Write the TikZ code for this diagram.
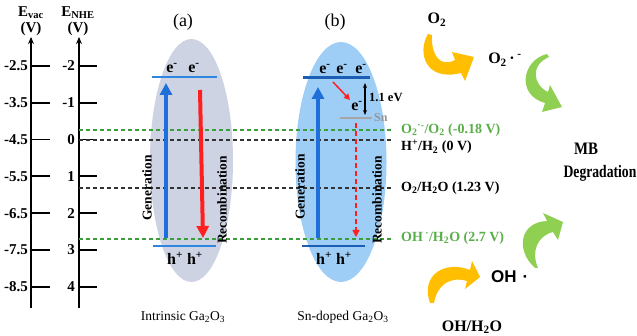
\documentclass[tikz,border=0pt]{standalone}
\usepackage{fontspec}
\setmainfont{Liberation Serif}
\newfontfamily\arialfont{Liberation Sans}
\usetikzlibrary{shapes.geometric, arrows.meta, positioning}
\definecolor{ellgray}{HTML}{CDD3E3}
\definecolor{ellblue}{HTML}{9ECDF6}
\definecolor{genblue}{HTML}{1F6FDB}
\definecolor{cbthin}{HTML}{2E86DE}
\definecolor{cbdark}{HTML}{1A5FB4}
\definecolor{recred}{HTML}{FF1F1F}
\definecolor{redoxgreen}{HTML}{3A9E3A}
\definecolor{lblgreen}{HTML}{5AAE4A}
\definecolor{arrorange}{HTML}{FFBE00}
\definecolor{arrgreen}{HTML}{8FCF52}
\definecolor{dopegray}{HTML}{A6A6A6}
\tikzset{
  % energy axes
  axis/.style={draw=black, line width=1.8pt, -{Stealth[length=7pt,width=6pt]}},
  tickmark/.style={draw=black, line width=1.8pt},
  numlbl/.style={font=\fontsize{15}{15}\selectfont\bfseries, anchor=east, inner sep=1pt},
  axtitle/.style={font=\fontsize{15}{15}\selectfont\bfseries, inner sep=0pt},
  % semiconductor ellipses
  bgell/.style={ellipse, fill=#1, draw=none, inner sep=0pt},
  band/.style={draw=#1, line width=1.5pt},
  carrier/.style={font=\fontsize{16}{16}\selectfont\bfseries, inner sep=1pt},
  vlbl/.style={font=\fontsize{13.5}{13.5}\selectfont\bfseries, rotate=90, inner sep=0pt},
  panel/.style={font=\fontsize{18}{18}\selectfont},
  caption/.style={font=\fontsize{13.5}{13.5}\selectfont},
  % transitions
  genarrow/.style={draw=genblue, line width=4pt, -{Triangle[width=12pt,length=12pt]}},
  recarrow/.style={draw=recred, line width=4pt, -{Triangle[width=12pt,length=12pt]}},
  thinred/.style={draw=recred, line width=1.5pt, -{Triangle[width=6pt,length=6pt]}},
  % redox levels
  redox/.style={line width=1.2pt, dash pattern=on 4pt off 3pt},
  redoxlbl/.style={font=\fontsize{14}{14}\selectfont\bfseries, anchor=west, inner sep=0pt},
  spec/.style={font=\fontsize{16}{16}\selectfont\bfseries, inner sep=1pt},
  bigspec/.style={font=\fontsize{17.5}{17.5}\selectfont\bfseries, inner sep=1pt},
}

\begin{document}
\begin{tikzpicture}[x=1pt, y=-1pt]
\useasboundingbox (0,0) rectangle (637,336);

% ── Energy axes ──────────────────────────────────────────────────────────────
\coordinate (vac-b) at (31,308);
\coordinate (vac-t) at (31,37);
\coordinate (nhe-b) at (79,308);
\coordinate (nhe-t) at (79,37);
\draw[axis] (vac-b) -- (vac-t);
\draw[axis] (nhe-b) -- (nhe-t);
\node[axtitle] (vac-title) at (31,13) {E\textsubscript{vac}};
\node[axtitle] (vac-unit)  at (31,29) {(V)};
\node[axtitle] (nhe-title) at (78,13) {E\textsubscript{NHE}};
\node[axtitle] (nhe-unit)  at (78,29) {(V)};

\foreach \vl/\nl [count=\i] in {-2.5/-2, -3.5/-1, -4.5/0, -5.5/1, -6.5/2, -7.5/3, -8.5/4} {
  \pgfmathsetmacro{\yy}{29.2+36.8*\i}
  \draw[tickmark] (31,\yy) -- (50,\yy);
  \draw[tickmark] (79,\yy) -- (97,\yy);
  \node[numlbl] (vac\i) at (29,\yy) {\vl};
  \node[numlbl] (nhe\i) at (76,\yy) {\nl};
}

% ── Ellipses ─────────────────────────────────────────────────────────────────
\node[bgell=ellgray, minimum width=83pt, minimum height=243pt] (ellA) at (191.5,160.5) {};
\node[bgell=ellblue, minimum width=91pt, minimum height=240pt] (ellB) at (341,162) {};

% ── Redox levels ─────────────────────────────────────────────────────────────
\foreach \nm/\yy/\col in {o2/130/redoxgreen, h2/140/black!80, h2o/188/black!80, oh/239/redoxgreen} {
  \coordinate (\nm-l) at (79,\yy);
  \coordinate (\nm-r) at (393,\yy);
  \draw[redox, draw=\col] (\nm-l) -- (\nm-r);
}
\node[redoxlbl, text=lblgreen] (o2lbl)  at (401,130) {O\textsubscript{2}\textsuperscript{·-}/O\textsubscript{2} (-0.18 V)};
\node[redoxlbl]                (h2lbl)  at (401,147) {H\textsuperscript{+}/H\textsubscript{2} (0 V)};
\node[redoxlbl]                (h2olbl) at (401,188) {O\textsubscript{2}/H\textsubscript{2}O (1.23 V)};
\node[redoxlbl, text=lblgreen] (ohlbl)  at (401,238) {OH\,\textsuperscript{·}/H\textsubscript{2}O (2.7 V)};

% ── (a) Intrinsic ────────────────────────────────────────────────────────────
\node[panel] (capA) at (183,22) {(a)};
\coordinate (cbA-l) at (152,77);  \coordinate (cbA-r) at (217,77);
\coordinate (vbA-l) at (153,246); \coordinate (vbA-r) at (216,246);
\draw[band=cbthin] (cbA-l) -- (cbA-r);
\draw[band=cbthin] (vbA-l) -- (vbA-r);
\node[carrier] (eA1) at (172,68) {e\textsuperscript{-}};
\node[carrier] (eA2) at (194,68) {e\textsuperscript{-}};
\node[carrier] (hA)  at (185,258) {h\textsuperscript{+} h\textsuperscript{+}};
\coordinate (genA-s) at (166,238); \coordinate (genA-e) at (166,83);
\coordinate (recA-s) at (200,90);  \coordinate (recA-e) at (203,238);
\draw[genarrow] (genA-s) -- (genA-e);
\draw[recarrow] (recA-s) -- (recA-e);
\node[vlbl] (genAlbl) at (147,188) {Generation};
\node[vlbl] (recAlbl) at (222,200) {Recombination};
\node[caption] (nameA) at (183,317) {Intrinsic Ga\textsubscript{2}O\textsubscript{3}};

% ── (b) Sn-doped ─────────────────────────────────────────────────────────────
\node[panel] (capB) at (335,22) {(b)};
\coordinate (cbB-l) at (303,78);  \coordinate (cbB-r) at (370,78);
\coordinate (vbB-l) at (302,246); \coordinate (vbB-r) at (365,246);
\coordinate (sn-l)  at (340,118); \coordinate (sn-r)  at (372,118);
\draw[draw=cbdark, line width=3pt] (cbB-l) -- (cbB-r);
\draw[draw=cbdark, line width=2pt] (vbB-l) -- (vbB-r);
\draw[draw=dopegray, line width=2.5pt] (sn-l) -- (sn-r);
\node[font=\fontsize{12}{12}\selectfont\bfseries, text=dopegray!90!black, anchor=west, inner sep=0pt]
  (snlbl) at (374,118) {Sn};
\node[carrier] (eB1) at (325,69) {e\textsuperscript{-}};
\node[carrier] (eB2) at (342,69) {e\textsuperscript{-}};
\node[carrier] (eB3) at (361,69) {e\textsuperscript{-}};
\node[carrier] (eB4) at (357,106) {e\textsuperscript{-}};
\node[carrier] (hB)  at (334,258) {h\textsuperscript{+} h\textsuperscript{+}};
\coordinate (genB-s) at (318,238); \coordinate (genB-e) at (318,87);
\coordinate (trap-s) at (333,82);  \coordinate (trap-e) at (350,100);
\coordinate (gap-t)  at (365,83);  \coordinate (gap-b)  at (365,115);
\coordinate (recB-s) at (356,123); \coordinate (recB-e) at (356,237);
\draw[genarrow] (genB-s) -- (genB-e);
\draw[thinred] (trap-s) -- (trap-e);
\draw[line width=1.2pt, {Stealth[length=5pt,width=4pt]}-{Stealth[length=5pt,width=4pt]}] (gap-t) -- (gap-b);
\node[font=\fontsize{12.5}{12.5}\selectfont\bfseries, anchor=west, inner sep=0pt]
  (gaplbl) at (369,97) {1.1 eV};
\draw[draw=recred, line width=1.5pt, dash pattern=on 5pt off 3pt,
      -{Triangle[width=7pt,length=7pt]}] (recB-s) -- (recB-e);
\node[vlbl] (genBlbl) at (300,187) {Generation};
\node[vlbl] (recBlbl) at (377,200) {Recombination};
\node[caption] (nameB) at (343,317) {Sn-doped Ga\textsubscript{2}O\textsubscript{3}};

% ── Radicals and degradation ─────────────────────────────────────────────────
\node[spec] (o2)    at (437,20)  {O\textsubscript{2}};
\node[spec] (o2rad) at (505,60)  {O\textsubscript{2}\,·\,\textsuperscript{-}};
\node[bigspec] (mb)   at (586,149) {\scalebox{0.85}[1]{MB}};
\node[bigspec] (degr) at (600,173) {\scalebox{0.78}[1]{Degradation}};
\node[font={\arialfont\fontsize{17}{17}\selectfont\bfseries}, anchor=west, inner sep=0pt]
  (ohrad) at (491,277) {OH\hspace{6pt}·};
\node[spec] (ohwater) at (472,327) {OH/H\textsubscript{2}O};

\fill[arrorange] (428,34) .. controls (417,52) and (425,82) .. (461,73) -- (465,81) -- (474,57)
  -- (452,52) -- (455,60) .. controls (440,68) and (431,55) .. (432,35) -- cycle;
\fill[arrgreen] (547,54) .. controls (522,60) and (516,95) .. (545,103) -- (542,112) -- (562,107)
  -- (550,85) -- (548,92) .. controls (533,85) and (530,65) .. (549,57) -- cycle;
\fill[arrgreen] (535,268) .. controls (515,250) and (520,222) .. (547,221) -- (543,213) -- (563,222)
  -- (558,240) -- (553,232) .. controls (537,236) and (531,252) .. (538,268) -- cycle;
\fill[arrorange] (430,303) .. controls (420,275) and (445,260) .. (470,270) -- (472,261) -- (480,277)
  -- (465,289) -- (467,281) .. controls (450,276) and (437,285) .. (434,303) -- cycle;

\end{tikzpicture}
\end{document}
